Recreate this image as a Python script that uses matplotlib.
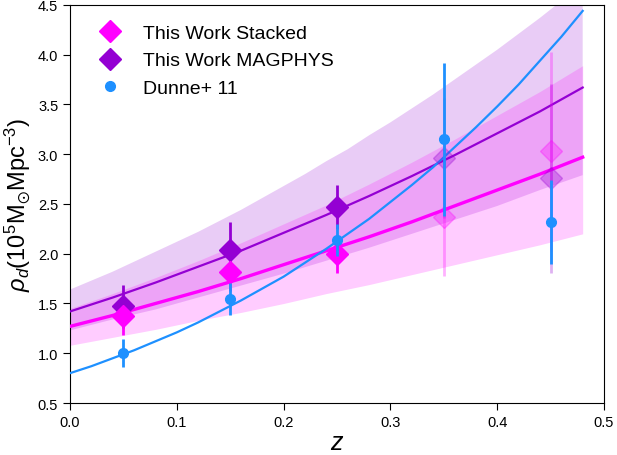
import matplotlib
matplotlib.use('Agg')
import matplotlib.pyplot as plt

plt.rcParams['font.family'] = ['Liberation Sans', 'DejaVu Sans']
plt.rcParams['mathtext.fontset'] = 'custom'
plt.rcParams['mathtext.rm'] = 'Liberation Sans'
plt.rcParams['mathtext.it'] = 'Liberation Sans:italic'
plt.rcParams['mathtext.fallback'] = 'stixsans'

# binned measurements
z_bins = [0.05, 0.15, 0.25, 0.35, 0.45]
stacked = [1.37, 1.82, 2.00, 2.37, 3.03]
stacked_err = [0.19, 0.19, 0.19, 0.59, 1.00]
magphys = [1.47, 2.04, 2.47, 2.96, 2.76]
magphys_err = [0.22, 0.28, 0.22, 0.60, 0.95]
dunne = [1.00, 1.545, 2.14, 3.15, 2.32]
dunne_err = [0.14, 0.16, 0.16, 0.77, 0.42]

# fitted curves
z_fit = [0.0, 0.04, 0.08, 0.12, 0.16, 0.20, 0.24, 0.28, 0.32, 0.36, 0.40, 0.44, 0.48]
stacked_fit = [1.27, 1.38, 1.50, 1.62, 1.75, 1.89, 2.03, 2.17, 2.32, 2.48, 2.64, 2.80, 2.97]
stacked_lo = [1.08, 1.16, 1.24, 1.33, 1.41, 1.50, 1.60, 1.69, 1.79, 1.89, 1.99, 2.09, 2.20]
stacked_hi = [1.45, 1.60, 1.76, 1.93, 2.11, 2.30, 2.49, 2.70, 2.92, 3.15, 3.39, 3.63, 3.89]
magphys_fit = [1.42, 1.56, 1.71, 1.87, 2.03, 2.21, 2.39, 2.58, 2.78, 2.99, 3.21, 3.43, 3.67]
magphys_lo = [1.23, 1.34, 1.44, 1.56, 1.68, 1.80, 1.93, 2.06, 2.20, 2.34, 2.48, 2.64, 2.79]

# the more strongly curved ones are read at a finer step
z_fine = [0.0, 0.02, 0.04, 0.06, 0.08, 0.10, 0.12, 0.14, 0.16, 0.18, 0.20, 0.22, 0.24,
          0.26, 0.28, 0.30, 0.32, 0.34, 0.36, 0.38, 0.40, 0.42, 0.44, 0.46, 0.48]
magphys_hi = [1.64, 1.73, 1.82, 1.92, 2.02, 2.12, 2.22, 2.33, 2.44, 2.56, 2.68, 2.80, 2.93,
              3.05, 3.19, 3.32, 3.46, 3.60, 3.75, 3.90, 4.05, 4.21, 4.37, 4.54, 4.71]
dunne_fit = [0.80, 0.87, 0.95, 1.03, 1.12, 1.21, 1.31, 1.42, 1.53, 1.65, 1.77, 1.91, 2.05,
             2.20, 2.35, 2.52, 2.69, 2.87, 3.07, 3.27, 3.48, 3.70, 3.94, 4.18, 4.44]

n_solid = 3  # the last two bins are drawn faded

c_stack = '#ff00ff'
c_mag = '#9400d3'
c_dun = '#1e90ff'

fig = plt.figure(figsize=(6.17, 4.56), dpi=100)
ax = fig.add_axes([0.1135, 0.114, 0.8655, 0.873])

# purple band: lower edge on the coarse grid, upper edge on the fine one
ax.fill(z_fit + z_fine[::-1], magphys_lo + magphys_hi[::-1], color=c_mag, alpha=0.2, lw=0)
ax.fill_between(z_fit, stacked_lo, stacked_hi, color=c_stack, alpha=0.2, lw=0)

ax.plot(z_fit, magphys_fit, color=c_mag, lw=1.6, zorder=3)
ax.plot(z_fit, stacked_fit, color=c_stack, lw=2.4, zorder=3)
ax.plot(z_fine, dunne_fit, color=c_dun, lw=1.6, zorder=3)

# faded high-z bins
ax.errorbar(z_bins[n_solid:], magphys[n_solid:], yerr=magphys_err[n_solid:], fmt='D',
            color=c_mag, ms=11, elinewidth=2, alpha=0.3, zorder=4)
ax.errorbar(z_bins[n_solid:], stacked[n_solid:], yerr=stacked_err[n_solid:], fmt='D',
            color=c_stack, ms=11, elinewidth=2, alpha=0.3, zorder=4)

ax.errorbar(z_bins[:n_solid], magphys[:n_solid], yerr=magphys_err[:n_solid], fmt='D',
            color=c_mag, ms=11, elinewidth=2, zorder=5)
ax.errorbar(z_bins[:n_solid], stacked[:n_solid], yerr=stacked_err[:n_solid], fmt='D',
            color=c_stack, ms=11, elinewidth=2, zorder=5)
ax.errorbar(z_bins, dunne, yerr=dunne_err, fmt='o', color=c_dun, ms=7,
            elinewidth=2, zorder=6)

# legend handles (markers only)
h1, = ax.plot([], [], 'D', color=c_stack, ms=11, label='This Work Stacked')
h2, = ax.plot([], [], 'D', color=c_mag, ms=11, label='This Work MAGPHYS')
h3, = ax.plot([], [], 'o', color=c_dun, ms=7, label='Dunne+ 11')
ax.legend(handles=[h1, h2, h3], loc='upper left', bbox_to_anchor=(0.01, 1.0),
          frameon=False, fontsize=14, handlelength=1.6, handletextpad=0.9,
          borderaxespad=0.6, labelspacing=0.5)

ax.set_xlim(0, 0.5)
ax.set_ylim(0.5, 4.5)
ax.set_xticks([0.0, 0.1, 0.2, 0.3, 0.4, 0.5])
ax.set_yticks([0.5, 1.0, 1.5, 2.0, 2.5, 3.0, 3.5, 4.0, 4.5])
ax.tick_params(labelsize=10.5, length=5)
ax.set_xlabel('$z$', fontsize=18, labelpad=1)
ax.set_ylabel(r'$\rho_d(10^5\mathrm{M}_{\odot}\mathrm{Mpc}^{-3})$', fontsize=17)

plt.savefig('out.png', dpi=100)
plt.close()
